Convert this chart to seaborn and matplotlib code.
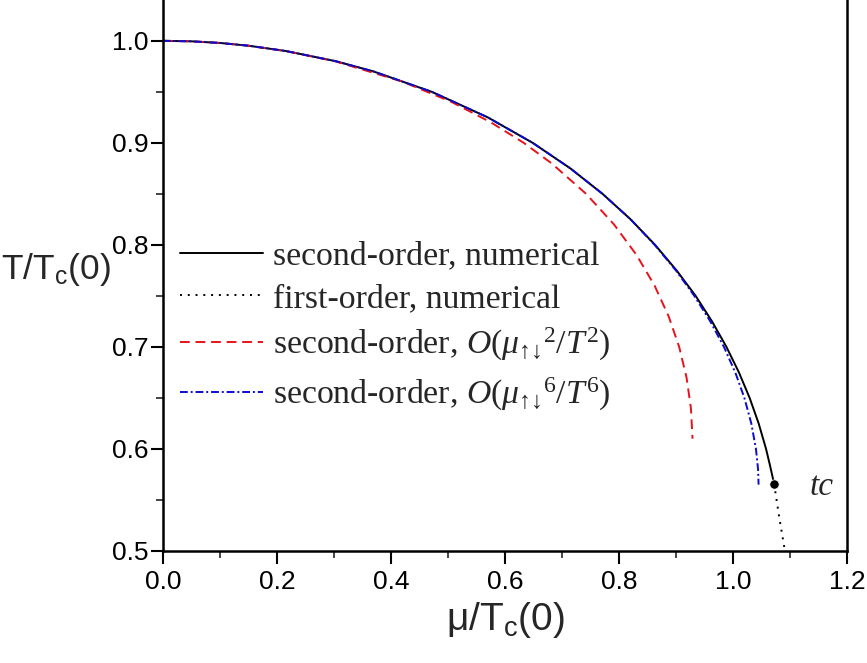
import numpy as np
import pandas as pd
import seaborn as sns
import matplotlib
matplotlib.use("Agg")
import matplotlib.pyplot as plt
from matplotlib.ticker import MultipleLocator, FormatStrFormatter

# second-order line, numerical
mu_2nd = [0.0, 0.05, 0.10, 0.15, 0.2155, 0.3031, 0.3692, 0.4715, 0.5696, 0.6485,
          0.7145, 0.7711, 0.8203, 0.8632, 0.9009, 0.9344, 0.9631, 0.9884, 1.0103,
          1.0291, 1.0449, 1.0579, 1.0643, 1.0720]
T_2nd = [1.0, 0.9995, 0.9979, 0.9952, 0.99, 0.98, 0.97, 0.95, 0.925, 0.90,
         0.875, 0.85, 0.825, 0.80, 0.775, 0.75, 0.725, 0.70, 0.675,
         0.65, 0.625, 0.60, 0.585, 0.566]

# first-order line, numerical
mu_1st = [1.072, 1.081, 1.091, 1.100]
T_1st = [0.566, 0.533, 0.500, 0.470]

# second-order, O(mu^2/T^2)
mu_o2 = [0.0, 0.05, 0.10, 0.15, 0.2150, 0.3017, 0.4201, 0.5065, 0.5754, 0.6328,
         0.6815, 0.7422, 0.7912, 0.8308, 0.8624, 0.8870, 0.9055, 0.9184, 0.9261, 0.9289]
T_o2 = [1.0, 0.9995, 0.9979, 0.9952, 0.99, 0.98, 0.96, 0.94, 0.92, 0.90,
        0.88, 0.85, 0.82, 0.79, 0.76, 0.73, 0.70, 0.67, 0.64, 0.61]

# second-order, O(mu^6/T^6)
mu_o6 = [0.0, 0.05, 0.10, 0.15, 0.2155, 0.3031, 0.3692, 0.4715, 0.5696, 0.6485,
         0.7145, 0.7711, 0.8203, 0.8625, 0.8997, 0.9321, 0.9601, 0.9840, 1.0039,
         1.0199, 1.0320, 1.0402, 1.0439, 1.0448]
T_o6 = [1.0, 0.9995, 0.9979, 0.9952, 0.99, 0.98, 0.97, 0.95, 0.925, 0.90,
        0.875, 0.85, 0.825, 0.80, 0.775, 0.75, 0.725, 0.70, 0.675,
        0.65, 0.625, 0.60, 0.58, 0.565]

# tricritical point
mu_tc = [1.072]
T_tc = [0.566]

sns.set_theme(style="ticks")
plt.rcParams['font.family'] = ['Liberation Sans', 'DejaVu Sans']
plt.rcParams['mathtext.fontset'] = 'custom'
plt.rcParams['mathtext.rm'] = 'Liberation Serif'
plt.rcParams['mathtext.it'] = 'Liberation Serif:italic'
plt.rcParams['mathtext.bf'] = 'Liberation Serif:bold'

fig = plt.figure(figsize=(8.67, 6.63), dpi=100)
ax = fig.add_axes([0.188, 0.169, 0.789, 0.831])

sns.lineplot(x=mu_2nd, y=T_2nd, sort=False, estimator=None, ax=ax, color='black',
             lw=1.4, label='second-order, numerical')
sns.lineplot(x=mu_1st, y=T_1st, sort=False, estimator=None, ax=ax, color='black',
             lw=1.4, ls=(0, (1, 3)), label='first-order, numerical')
sns.lineplot(x=mu_o2, y=T_o2, sort=False, estimator=None, ax=ax, color='#e8121c',
             lw=1.4, ls=(0, (5, 3)),
             label='second-order, $O(\\mu_{\\mathrm{↑↓}}{}^{2}/T^{2})$')
sns.lineplot(x=mu_o6, y=T_o6, sort=False, estimator=None, ax=ax, color='#0a0ad2',
             lw=1.4, ls=(0, (4, 1.5, 1, 1.5)),
             label='second-order, $O(\\mu_{\\mathrm{↑↓}}{}^{6}/T^{6})$')
sns.scatterplot(x=mu_tc, y=T_tc, ax=ax, color='black', s=45, zorder=5)

ax.text(1.135, 0.563, 'tc', fontsize=24, family='Liberation Serif', style='italic',
        va='center', ha='left')

ax.set_xlim(0.0, 1.2)
ax.set_ylim(0.5, 1.04)
ax.xaxis.set_major_locator(MultipleLocator(0.2))
ax.xaxis.set_minor_locator(MultipleLocator(0.1))
ax.yaxis.set_major_locator(MultipleLocator(0.1))
ax.yaxis.set_minor_locator(MultipleLocator(0.05))
ax.xaxis.set_major_formatter(FormatStrFormatter('%.1f'))
ax.yaxis.set_major_formatter(FormatStrFormatter('%.1f'))
ax.tick_params(which='major', direction='out', length=9, width=1.5, labelsize=19,
               colors='black')
ax.tick_params(which='minor', direction='out', length=5, width=1.2)
ax.tick_params(axis='x', which='major', pad=5)
ax.tick_params(axis='y', which='major', pad=1.5)
ax.tick_params(axis='y', right=False)

for side in ['left', 'bottom', 'right']:
    ax.spines[side].set_linewidth(1.8)
    ax.spines[side].set_color('black')
ax.spines['top'].set_visible(False)

ax.set_xlabel(r'$\mathregular{\mu/T_c(0)}$', fontsize=28, labelpad=4)
ax.set_ylabel(r'$\mathregular{T/T_c(0)}$', fontsize=25.5, rotation=0, va='center')
ax.yaxis.set_label_coords(-0.157, 0.51)

leg = ax.legend(loc='upper left', bbox_to_anchor=(0.025, 0.563), frameon=False,
                prop={'family': 'Liberation Serif', 'size': 24.3},
                handlelength=2.45, handletextpad=0.3, labelspacing=0.36,
                borderpad=0, borderaxespad=0)

fig.savefig('out.png', dpi=100)
